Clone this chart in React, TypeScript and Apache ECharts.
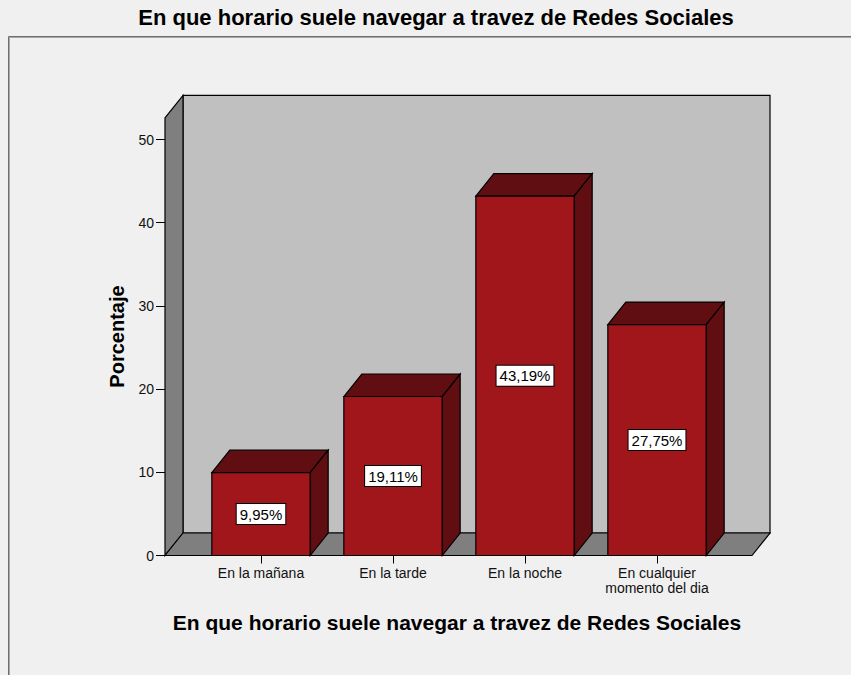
import React, { useEffect, useRef } from "react";
import * as echarts from "echarts";

const categories = ["En la mañana", "En la tarde", "En la noche", "En cualquier\nmomento del dia"];
const percentages = [9.95, 19.11, 43.19, 27.75];
const yTicks = [0, 10, 20, 30, 40, 50];
const titleText = "En que horario suele navegar a travez de Redes Sociales";
const xName = "En que horario suele navegar a travez de Redes Sociales";
const yName = "Porcentaje";

const W = 851;
const H = 675;
const GRID_LEFT = 195;
const GRID_RIGHT_X = 723;
const GRID_TOP = 139.5;
const GRID_BOTTOM_Y = 555.5;
const AXIS_OFFSET = 30;
const Y_MAX = 50;
const WALL_MAX = 52.6;
const DX = 18;
const DY = -22.5;
const BAR_RATIO = 0.745;
const FONT = "'Liberation Sans', Arial, sans-serif";

const FRONT = "#a1161a";
const DARK = "#600e11";
const BACK_WALL = "#c0c0c0";
const SIDE_WALL = "#7f7f7f";

function fmt(v: number) {
  return v.toFixed(2).replace(".", ",") + "%";
}

export default function App() {
  const ref = useRef<HTMLDivElement>(null);
  useEffect(() => {
    document.body.style.margin = "0";
    document.body.style.background = "#f0f0f0";
    if (!ref.current) return;
    const chart = echarts.init(ref.current, null, { renderer: "svg" });

    const yPix = (v: number) => GRID_BOTTOM_Y - (v / Y_MAX) * (GRID_BOTTOM_Y - GRID_TOP);
    const frontL = GRID_LEFT - AXIS_OFFSET;
    const frontR = GRID_RIGHT_X + 29;
    const frontTop = yPix(WALL_MAX);
    const frontBot = GRID_BOTTOM_Y;

    const data = percentages.map((v, i) => [i, v]);

    chart.setOption({
      animation: false,
      backgroundColor: "#f0f0f0",
      textStyle: { fontFamily: FONT },
      grid: {
        left: GRID_LEFT,
        right: W - GRID_RIGHT_X,
        top: GRID_TOP,
        bottom: H - GRID_BOTTOM_Y,
        containLabel: false,
        outerBoundsMode: "none",
      },
      xAxis: {
        type: "category",
        data: categories,
        axisLine: { show: false },
        axisTick: { show: true, alignWithLabel: true, length: 8, lineStyle: { color: "#000", width: 1 } },
        axisLabel: { color: "#111", fontSize: 14, fontFamily: FONT, margin: 10, lineHeight: 15, interval: 0 },
        splitLine: { show: false },
      },
      yAxis: {
        type: "value",
        min: 0,
        max: Y_MAX,
        interval: 10,
        offset: AXIS_OFFSET,
        axisLine: { show: false },
        axisTick: { show: true, length: 9, lineStyle: { color: "#000", width: 1 } },
        axisLabel: { color: "#111", fontSize: 14, fontFamily: FONT, margin: 11 },
        splitLine: { show: false },
      },
      graphic: [
        // frame
        { type: "line", z: 0, shape: { x1: 8.5, y1: 36.5, x2: W, y2: 36.5 }, style: { stroke: "#6e6e6e", lineWidth: 1 } },
        { type: "line", z: 0, shape: { x1: 8.5, y1: 36.5, x2: 8.5, y2: H }, style: { stroke: "#6e6e6e", lineWidth: 1 } },
        { type: "line", z: 0, shape: { x1: 9.5, y1: 37.5, x2: W, y2: 37.5 }, style: { stroke: "#a8a8a8", lineWidth: 1 } },
        { type: "line", z: 0, shape: { x1: 9.5, y1: 37.5, x2: 9.5, y2: H }, style: { stroke: "#a8a8a8", lineWidth: 1 } },
        // back wall
        {
          type: "rect", z: 0,
          shape: { x: frontL + DX, y: frontTop + DY, width: frontR - frontL, height: frontBot - frontTop },
          style: { fill: BACK_WALL, stroke: "#000", lineWidth: 1.2 },
        },
        // left wall
        {
          type: "polygon", z: 0,
          shape: { points: [[frontL, frontTop], [frontL + DX, frontTop + DY], [frontL + DX, frontBot + DY], [frontL, frontBot]] },
          style: { fill: SIDE_WALL, stroke: "#000", lineWidth: 1.2 },
        },
        // floor
        {
          type: "polygon", z: 0,
          shape: { points: [[frontL, frontBot], [frontR, frontBot], [frontR + DX, frontBot + DY], [frontL + DX, frontBot + DY]] },
          style: { fill: SIDE_WALL, stroke: "#000", lineWidth: 1.2 },
        },
        // title
        {
          type: "text", z: 5, x: 436, y: 17,
          style: { text: titleText, font: `bold 22px ${FONT}`, fill: "#000", textAlign: "center", textVerticalAlign: "middle" },
        },
        // x axis name
        {
          type: "text", z: 5, x: 457, y: 622,
          style: { text: xName, font: `bold 21px ${FONT}`, fill: "#000", textAlign: "center", textVerticalAlign: "middle" },
        },
        // y axis name
        {
          type: "text", z: 5, x: 117, y: 336.5, rotation: Math.PI / 2,
          style: { text: yName, font: `bold 20px ${FONT}`, fill: "#000", textAlign: "center", textVerticalAlign: "middle" },
        },
      ],
      series: [
        {
          type: "custom",
          z: 3,
          clip: false,
          encode: { x: 0, y: 1 },
          data,
          renderItem: (params: any, api: any) => {
            const idx = api.value(0);
            const val = api.value(1);
            const top = api.coord([idx, val]);
            const base = api.coord([idx, 0]);
            const w = api.size([1, 0])[0] * BAR_RATIO;
            const x0 = top[0] - w / 2;
            const x1 = top[0] + w / 2;
            const yT = top[1];
            const yB = base[1];
            return {
              type: "group",
              children: [
                {
                  type: "polygon",
                  shape: { points: [[x0, yT], [x0 + DX, yT + DY], [x1 + DX, yT + DY], [x1, yT]] },
                  style: { fill: DARK, stroke: "#000", lineWidth: 1.2 },
                },
                {
                  type: "polygon",
                  shape: { points: [[x1, yT], [x1 + DX, yT + DY], [x1 + DX, yB + DY], [x1, yB]] },
                  style: { fill: DARK, stroke: "#000", lineWidth: 1.2 },
                },
                {
                  type: "rect",
                  shape: { x: x0, y: yT, width: w, height: yB - yT },
                  style: { fill: FRONT, stroke: "#000", lineWidth: 1.2 },
                },
                {
                  type: "text",
                  x: top[0],
                  y: (yT + yB) / 2,
                  style: {
                    text: fmt(val),
                    font: `15px ${FONT}`,
                    fill: "#000",
                    textAlign: "center",
                    textVerticalAlign: "middle",
                    backgroundColor: "#fff",
                    borderColor: "#000",
                    borderWidth: 1,
                    padding: [3, 3, 2, 3],
                  },
                },
              ],
            };
          },
        },
      ],
    });
    return () => chart.dispose();
  }, []);
  return <div ref={ref} style={{ width: W, height: H }} />;
}
